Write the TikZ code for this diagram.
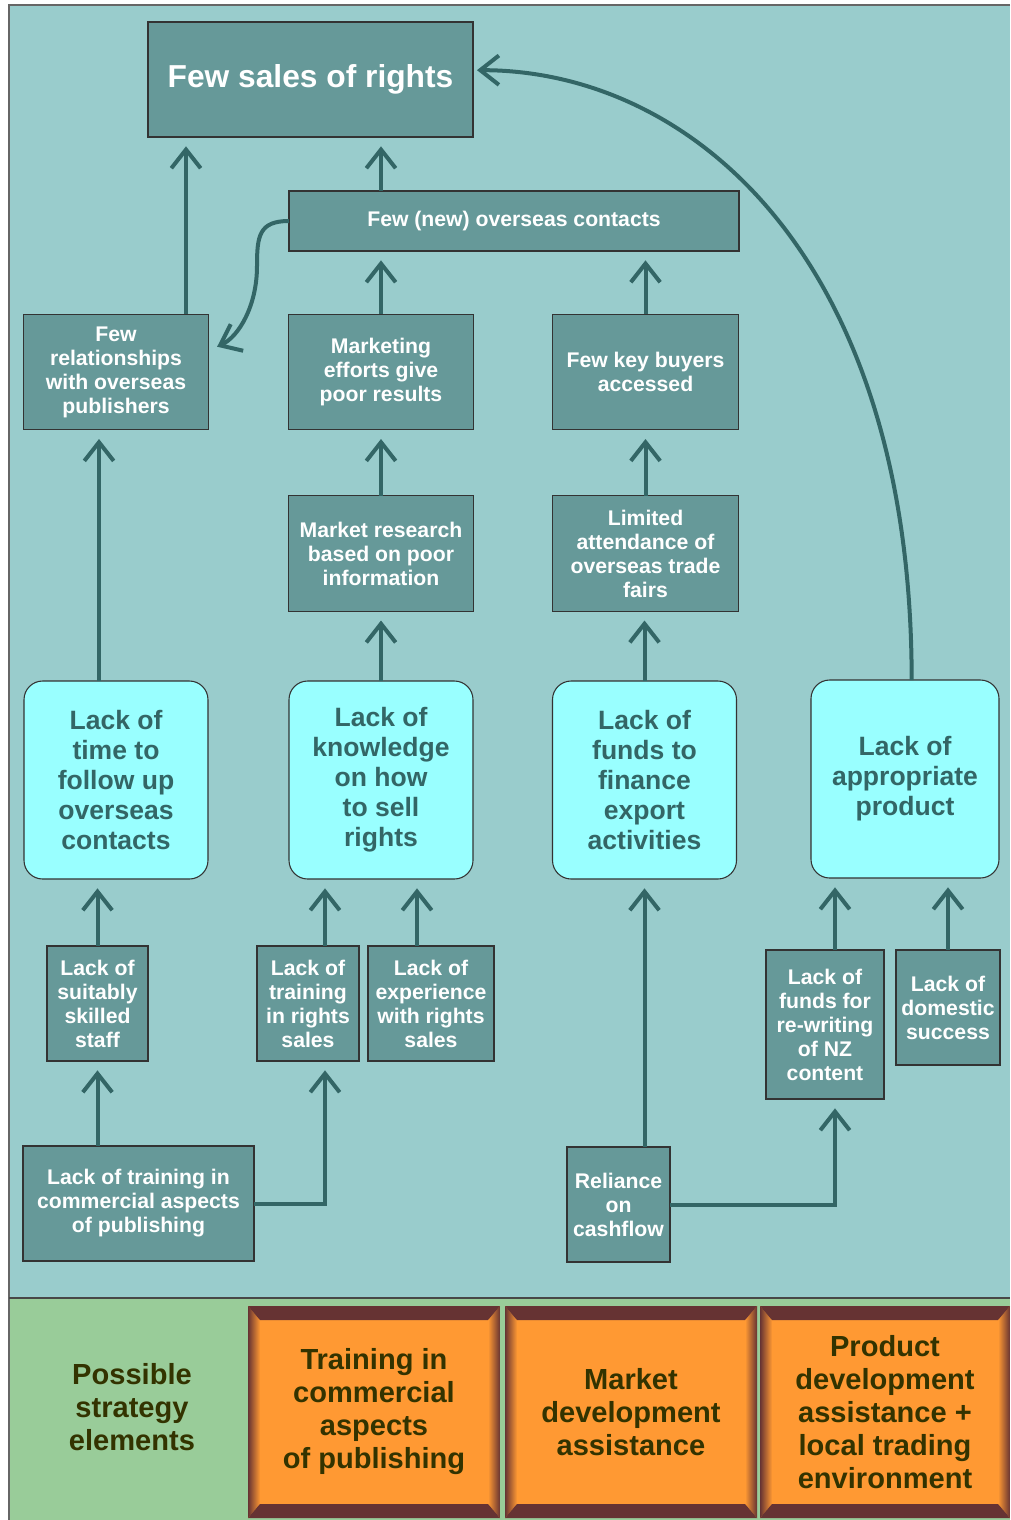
\documentclass[tikz,border=0pt]{standalone}
\usepackage{fontspec}
\setmainfont{Liberation Sans}
\usepackage{tikz}
\usepackage{xcolor}
\usetikzlibrary{calc}
\usetikzlibrary{positioning,arrows.meta}

\definecolor{bgteal}{HTML}{99CCCC}
\definecolor{causefill}{HTML}{669999}
\definecolor{keyfill}{HTML}{99FFFF}
\definecolor{linec}{HTML}{336666}
\definecolor{stripgreen}{HTML}{99CC99}
\definecolor{stratfill}{HTML}{FF9933}
\definecolor{bevelc}{HTML}{663333}
\definecolor{olive}{HTML}{333300}
\definecolor{framec}{HTML}{666666}

\begin{document}
\begin{tikzpicture}[
  x=0.75pt, y=-0.75pt,
  >={Straight Barb[length=14pt,width=22pt]},
  causebox/.style={rectangle, draw=black!80, line width=0.8pt, fill=causefill, text=white,
    align=center, inner sep=0pt, outer sep=0pt, font=\bfseries\fontsize{15.9}{18}\selectfont},
  topbox/.style={causebox, font=\bfseries\fontsize{23.8}{28}\selectfont},
  midbox/.style={causebox, minimum width=139pt, minimum height=86.5pt},
  keybox/.style={causebox, rounded corners=14pt, fill=keyfill, text=linec,
    minimum width=138pt, minimum height=148.5pt, font=\bfseries\fontsize{19.9}{22.5}\selectfont},
  leafbox/.style={causebox, minimum height=86.25pt},
  stratbox/.style={rectangle, fill=stratfill, text=olive, align=center, inner sep=0pt,
    minimum height=159pt, font=\bfseries\fontsize{21.8}{24.75}\selectfont,
    path picture={
      \path (path picture bounding box.north west) coordinate (bnw)
            (path picture bounding box.north east) coordinate (bne)
            (path picture bounding box.south west) coordinate (bsw)
            (path picture bounding box.south east) coordinate (bse);
      \shade[left color=bevelc, right color=stratfill]
        (bnw) -- ($(bnw)+(12,14)$) -- ($(bsw)+(12,-14)$) -- (bsw) -- cycle;
      \shade[left color=stratfill, right color=bevelc]
        (bne) -- ($(bne)+(-12,14)$) -- ($(bse)+(-12,-14)$) -- (bse) -- cycle;
      \fill[bevelc] (bnw) -- (bne) -- ($(bne)+(-12,14)$) -- ($(bnw)+(12,14)$) -- cycle;
      \fill[bevelc] (bsw) -- (bse) -- ($(bse)+(-12,-14)$) -- ($(bsw)+(12,-14)$) -- cycle;
    }},
  arrow/.style={->, line width=3pt, draw=linec, shorten >=7pt}
]
\useasboundingbox (0,0) rectangle (1010,1520);

% ------------------------------------------------------------
% Background: problem area + strategy strip
% ------------------------------------------------------------
\fill[bgteal] (9,5) rectangle (1010,1298);
\fill[stripgreen] (9,1298) rectangle (1010,1520);
\draw[framec, line width=1.5pt] (1010,5) -- (9,5) -- (9,1520);
\draw[framec!70!black, line width=1pt] (9,1298) -- (1010,1298);

% ------------------------------------------------------------
% Top: the core problem
% ------------------------------------------------------------
\node[topbox, minimum width=243.75pt, minimum height=86.25pt] (sales) at (310.5,79.5) {Few sales of rights};
\node[causebox, minimum width=337.5pt, minimum height=45pt] (contacts) at (514,221) {Few (new) overseas contacts};

% ------------------------------------------------------------
% Intermediate effects
% ------------------------------------------------------------
\node[midbox] (relations) at (116,372)    {Few\\relationships\\with overseas\\publishers};
\node[midbox] (marketing) at (381,372)    {Marketing\\efforts give\\poor results};
\node[midbox] (buyers)    at (645.5,372)  {Few key buyers\\accessed};
\node[midbox] (research)  at (381,553.5)  {Market research\\based on poor\\information};
\node[midbox] (fairs)     at (645.5,553.5){Limited\\attendance of\\overseas trade\\fairs};

% ------------------------------------------------------------
% Key causes (cyan)
% ------------------------------------------------------------
\node[keybox] (time)    at (116,780)   {Lack of\\time to\\follow up\\overseas\\contacts};
\node[keybox] (knowhow) at (381,780)   {Lack of\\knowledge\\on how\\to sell\\rights};
\node[keybox] (funds)   at (644.5,780) {Lack of\\funds to\\finance\\export\\activities};
\node[keybox, minimum width=141pt] (product) at (905,779) {Lack of\\appropriate\\product};

% ------------------------------------------------------------
% Root causes
% ------------------------------------------------------------
\node[leafbox, minimum width=75.75pt] (staff)      at (97.5,1003.5) {Lack of\\suitably\\skilled\\staff};
\node[leafbox, minimum width=76.5pt]  (rtraining)  at (308,1003.5)  {Lack of\\training\\in rights\\sales};
\node[leafbox, minimum width=94.5pt]  (experience) at (431,1003.5)  {Lack of\\experience\\with rights\\sales};
\node[leafbox, minimum width=88.5pt, minimum height=111.75pt] (rewrite) at (825,1024.5)
  {Lack of\\funds for\\re-writing\\of NZ\\content};
\node[leafbox, minimum width=78pt]    (domestic)   at (948,1007.5)  {Lack of\\domestic\\success};
\node[leafbox, minimum width=173.25pt] (commtrain) at (138.5,1203.5) {Lack of training in\\commercial aspects\\of publishing};
\node[leafbox, minimum width=77.25pt] (cashflow)   at (618.5,1204.5) {Reliance\\on\\cashflow};

% ------------------------------------------------------------
% Strategy elements
% ------------------------------------------------------------
\node[text=olive, align=center, font=\bfseries\fontsize{21.8}{24.75}\selectfont] (possible) at (132,1407)
  {Possible\\strategy\\elements};
\node[stratbox, minimum width=189pt]   (strat1) at (374,1412) {Training in\\commercial\\aspects\\of publishing};
\node[stratbox, minimum width=189pt]   (strat2) at (631,1412) {Market\\development\\assistance};
\node[stratbox, minimum width=187.5pt] (strat3) at (885,1412) {Product\\development\\assistance +\\local trading\\environment};

% arrows into the core problem
\draw[arrow] ([xshift=52.5pt]relations.north) -- ([xshift=52.5pt]relations.north |- sales.south);
\draw[arrow] (contacts.north -| marketing) -- (sales.south -| marketing);
\draw[arrow, shorten >=3pt] ([xshift=5pt]product.north) .. controls +(0,-420) and +(220,0) .. ([yshift=7pt]sales.east);

% contacts feed relationships
\draw[arrow] (contacts.west) .. controls +(-30,0) and +(0,-30) .. ($(contacts.west)+(-32,45)$)
  .. controls +(0,40) and +(30,-14) .. ([yshift=16pt]relations.east);

% arrows between effects
\draw[arrow] (marketing.north) -- (marketing.north |- contacts.south);
\draw[arrow] (buyers.north) -- (buyers.north |- contacts.south);
\draw[arrow] (research) -- (marketing);
\draw[arrow] (fairs) -- (buyers);
\draw[arrow] (knowhow) -- (research);
\draw[arrow] (funds.north) -- (funds.north |- fairs.south);
\draw[arrow] ([xshift=-12.75pt]time.north) -- ([xshift=-12.75pt]time.north |- relations.south);

% root causes up to key causes
\draw[arrow] (staff.north) -- (staff.north |- time.south);
\draw[arrow] ([xshift=12.75pt]rtraining.north) -- ([xshift=12.75pt]rtraining.north |- knowhow.south);
\draw[arrow] ([xshift=-10.5pt]experience.north) -- ([xshift=-10.5pt]experience.north |- knowhow.south);
\draw[arrow] ([xshift=7.5pt]rewrite.north) -- ([xshift=7.5pt]rewrite.north |- product.south);
\draw[arrow] (domestic.north) -- (domestic.north |- product.south);
\draw[arrow] (commtrain.north -| staff) -- (staff.south);
\draw[arrow] (commtrain.east) -| ([xshift=12.75pt]rtraining.south);
\draw[arrow] (cashflow.north -| funds) -- (funds.south);
\draw[arrow] (cashflow.east) -| ([xshift=7.5pt]rewrite.south);

\end{tikzpicture}
\end{document}
